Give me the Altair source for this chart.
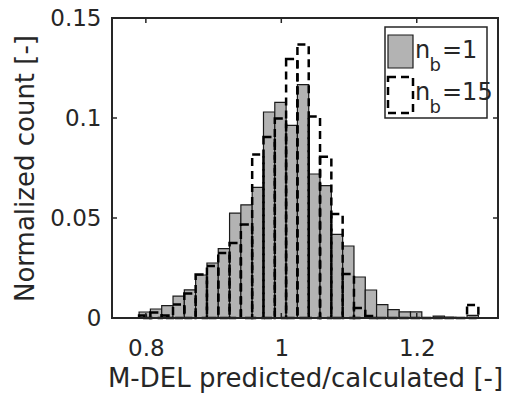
import altair as alt
import numpy as np
import pandas as pd

# ---- data ----
BIN_START = 0.79
BIN_WIDTH = 0.0167
N_B1 = [0.0030, 0.0045, 0.0062, 0.0109, 0.0141, 0.0215, 0.0275, 0.0347, 0.0524, 0.0566,
        0.0653, 0.1030, 0.1078, 0.0963, 0.1167, 0.0720, 0.0662, 0.0418, 0.0360, 0.0205,
        0.0140, 0.0067, 0.0042, 0.0031, 0.0031, 0.0000, 0.0009, 0.0004, 0.0000, 0.0013]
N_B15 = [0.0012, 0.0028, 0.0013, 0.0067, 0.0122, 0.0217, 0.0260, 0.0325, 0.0375, 0.0467,
         0.0817, 0.0905, 0.0997, 0.1295, 0.1367, 0.1008, 0.0806, 0.0520, 0.0220, 0.0050,
         0.0010, 0.0000, 0.0000, 0.0000, 0.0000, 0.0000, 0.0000, 0.0000, 0.0000, 0.0065]
X_TICKS = [0.8, 1.0, 1.2]
Y_TICKS = [0, 0.05, 0.1, 0.15]
X_DOMAIN = [0.75, 1.32]
Y_DOMAIN = [0, 0.15]
X_LABEL = "M-DEL predicted/calculated [-]"
Y_LABEL = "Normalized count [-]"
LEGEND_VALUES = ["=1", "=15"]

FONT = "DejaVu Sans"
AX = "#262626"
GREY = "#b3b3b3"

W, H = 386, 300

edges = BIN_START + BIN_WIDTH * np.arange(len(N_B1) + 1)
df = pd.DataFrame({
    "x0": edges[:-1],
    "x1": edges[1:],
    "nb1": N_B1,
    "nb15": N_B15,
})

xs = alt.Scale(domain=X_DOMAIN, nice=False, zero=False)
ys = alt.Scale(domain=Y_DOMAIN, nice=False)

xaxis = alt.Axis(values=X_TICKS, format="~g", ticks=False, tickSize=0, domain=False, grid=False,
                 labelFont=FONT, labelFontSize=23, labelColor=AX, labelPadding=37,
                 labelBaseline="alphabetic",
                 title=X_LABEL, titleFont=FONT, titleFontSize=26, titleFontWeight="normal",
                 titleColor=AX, titleY=68, titleBaseline="alphabetic")
yaxis = alt.Axis(values=Y_TICKS, format="~g", ticks=False, tickSize=0, domain=False, grid=False,
                 labelFont=FONT, labelFontSize=23, labelColor=AX, labelPadding=11,
                 title=Y_LABEL, titleFont=FONT, titleFontSize=26, titleFontWeight="normal",
                 titleColor=AX, titleX=-79, titleBaseline="alphabetic", titleAngle=-90)

base = alt.Chart(df)

grey = base.mark_bar(fill=GREY, stroke="#1a1a1a", strokeWidth=1.2).encode(
    x=alt.X("x0:Q", scale=xs, axis=xaxis),
    x2="x1:Q",
    y=alt.Y("nb1:Q", scale=ys, axis=yaxis),
    y2=alt.datum(0),
)

dashed = base.mark_bar(fillOpacity=0, stroke="black", strokeWidth=2.5,
                       strokeDash=[8, 5]).encode(
    x=alt.X("x0:Q", scale=xs),
    x2="x1:Q",
    y=alt.Y("nb15:Q", scale=ys),
    y2=alt.datum(0),
)

xt = pd.DataFrame({"v": X_TICKS})
yt = pd.DataFrame({"v": Y_TICKS})
tick_style = dict(color=AX, strokeWidth=1.5)
xticks_b = alt.Chart(xt).mark_rule(**tick_style).encode(
    x=alt.X("v:Q", scale=xs), y=alt.value(H), y2=alt.value(H - 5))
xticks_t = alt.Chart(xt).mark_rule(**tick_style).encode(
    x=alt.X("v:Q", scale=xs), y=alt.value(0), y2=alt.value(5))
yticks_l = alt.Chart(yt).mark_rule(**tick_style).encode(
    y=alt.Y("v:Q", scale=ys), x=alt.value(0), x2=alt.value(5))
yticks_r = alt.Chart(yt).mark_rule(**tick_style).encode(
    y=alt.Y("v:Q", scale=ys), x=alt.value(W), x2=alt.value(W - 5))

one = pd.DataFrame({"a": [0]})
frame = alt.Chart(one).mark_rect(fillOpacity=0, stroke=AX, strokeWidth=2).encode(
    x=alt.value(0), x2=alt.value(W), y=alt.value(0), y2=alt.value(H))
leg_box = alt.Chart(one).mark_rect(fill="white", stroke=AX, strokeWidth=1.5).encode(
    x=alt.value(273), x2=alt.value(375), y=alt.value(9), y2=alt.value(100))
leg_grey = alt.Chart(one).mark_rect(fill=GREY, stroke="#1a1a1a", strokeWidth=1.2).encode(
    x=alt.value(276), x2=alt.value(301), y=alt.value(17), y2=alt.value(50))
leg_dash = alt.Chart(one).mark_rect(fillOpacity=0, stroke="black", strokeWidth=2.5,
                                    strokeDash=[8, 5]).encode(
    x=alt.value(276), x2=alt.value(301), y=alt.value(59), y2=alt.value(95))


def txt(s, x, y, size):
    return alt.Chart(one).mark_text(font=FONT, fontSize=size, color=AX, align="left",
                                    baseline="alphabetic").encode(
        x=alt.value(x), y=alt.value(y), text=alt.value(s))


legend_layers = []
for i, val in enumerate(LEGEND_VALUES):
    dy = 42 * i
    legend_layers += [txt("n", 303, 40 + dy, 24), txt("b", 317.5, 53 + dy, 18),
                      txt(val, 330, 40 + dy, 24)]

chart = alt.layer(
    grey, dashed, xticks_b, xticks_t, yticks_l, yticks_r, frame, leg_box, leg_grey, leg_dash,
    *legend_layers
).properties(
    width=W, height=H,
    autosize=alt.AutoSizeParams(type="none"),
    padding={"left": 104, "top": 10, "right": 10, "bottom": 80},
).configure_view(
    stroke=None
).configure(background="white")

chart.save("out.html", embed_options={"renderer": "svg", "actions": False})
